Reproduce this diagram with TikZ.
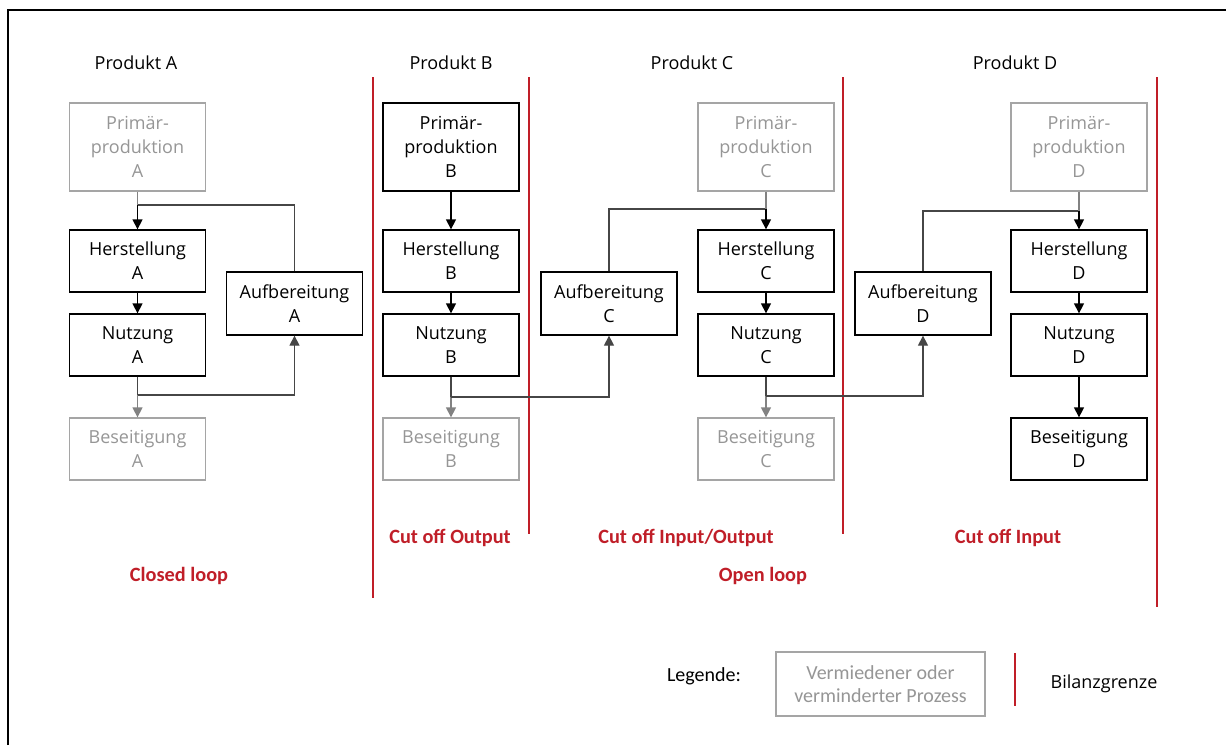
\documentclass[tikz,border=0pt]{standalone}
\usepackage{fontspec}
\setmainfont{Open Sans}
\newfontfamily\calibri{Carlito}
\usetikzlibrary{arrows.meta}
\definecolor{bilanz}{RGB}{192,30,40}
\definecolor{fadedtext}{RGB}{150,150,150}
\definecolor{fadedline}{RGB}{165,165,165}
\definecolor{fadedarrow}{RGB}{130,130,130}
\definecolor{connector}{RGB}{70,70,70}

\begin{document}
\begin{tikzpicture}[x=1pt,y=-1pt,
  proc/.style={draw=black, line width=1.3pt, minimum width=136pt, align=center,
    inner sep=0pt, font=\fontsize{18}{24}\selectfont},
  avoided/.style={proc, draw=fadedline, text=fadedtext},
  tallbox/.style={minimum height=88pt},
  flatbox/.style={minimum height=62pt},
  tip/.style={-{Triangle[length=10pt,width=10pt]}},
  flow/.style={tip, line width=1.3pt, draw=black},
  fadedflow/.style={tip, line width=1.3pt, draw=fadedarrow},
  feedline/.style={line width=1.3pt, draw=fadedarrow},
  recycle/.style={line width=1.3pt, draw=connector},
  recyclein/.style={recycle, tip},
  boundary/.style={draw=bilanz, line width=2pt},
  heading/.style={font=\fontsize{18}{22}\selectfont},
  redlabel/.style={text=bilanz, font=\calibri\bfseries\fontsize{20.3}{24}\selectfont},
  legendtext/.style={font=\calibri\fontsize{20}{23}\selectfont}
]
\useasboundingbox (0,0) rectangle (1226,745);
\fill[white] (0,0) rectangle (1226,745);
\draw[line width=1.6pt] (8,745) -- (8,10) -- (1226,10);

% column headings
\node[heading] (hA) at (136,63) {Produkt A};
\node[heading] (hB) at (451,63) {Produkt B};
\node[heading] (hC) at (692,63) {Produkt C};
\node[heading] (hD) at (1015,63) {Produkt D};

% balance boundaries
\draw[boundary] (373,77) -- (373,598);
\draw[boundary] (529,77) -- (529,534);
\draw[boundary] (843,77) -- (843,534);
\draw[boundary] (1157,77) -- (1157,607);

% product A
\node[avoided, tallbox] (primA) at (137.5,147) {Primär-\\produktion\\A};
\node[proc, flatbox] (herA) at (137.5,261) {Herstellung\\A};
\node[proc, flatbox] (nutA) at (137.5,345) {Nutzung\\A};
\node[avoided, flatbox] (besA) at (137.5,449) {Beseitigung\\A};
\node[proc, minimum height=63pt] (aufA) at (294.5,303.5) {Aufbereitung\\A};

% product B
\node[proc, tallbox] (primB) at (451,147) {Primär-\\produktion\\B};
\node[proc, flatbox] (herB) at (451,261) {Herstellung\\B};
\node[proc, flatbox] (nutB) at (451,345) {Nutzung\\B};
\node[avoided, flatbox] (besB) at (451,449) {Beseitigung\\B};

% product C
\node[proc, minimum height=63pt] (aufC) at (609,303.5) {Aufbereitung\\C};
\node[avoided, tallbox] (primC) at (766,147) {Primär-\\produktion\\C};
\node[proc, flatbox] (herC) at (766,261) {Herstellung\\C};
\node[proc, flatbox] (nutC) at (766,345) {Nutzung\\C};
\node[avoided, flatbox] (besC) at (766,449) {Beseitigung\\C};

% product D
\node[proc, minimum height=63pt] (aufD) at (923,303.5) {Aufbereitung\\D};
\node[avoided, tallbox] (primD) at (1079,147) {Primär-\\produktion\\D};
\node[proc, flatbox] (herD) at (1079,261) {Herstellung\\D};
\node[proc, flatbox] (nutD) at (1079,345) {Nutzung\\D};
\node[proc, flatbox] (besD) at (1079,449) {Beseitigung\\D};

% junction points where the recycling loops join the main chains
\coordinate (inA) at (137.5,205);
\coordinate (outA) at (137.5,395);
\coordinate (inC) at (766,209);
\coordinate (outB) at (451,397);
\coordinate (inD) at (1079,211);
\coordinate (outC) at (766,396);

% chain A
\draw[feedline] (primA) -- (inA);
\draw[flow] (inA) -- (herA);
\draw[flow] (herA) -- (nutA);
\draw[recycle] (nutA) -- (outA);
\draw[fadedflow] (outA) -- (besA);
\draw[recyclein] (outA) -| (aufA);
\draw[recycle] (aufA) |- (inA);

% chain B
\draw[flow] (primB) -- (herB);
\draw[flow] (herB) -- (nutB);
\draw[recycle] (nutB) -- (outB);
\draw[fadedflow] (outB) -- (besB);
\draw[recyclein] (outB) -| (aufC);

% chain C
\draw[recycle] (aufC) |- (inC);
\draw[feedline] (primC) -- (inC);
\draw[flow] (inC) -- (herC);
\draw[flow] (herC) -- (nutC);
\draw[recycle] (nutC) -- (outC);
\draw[fadedflow] (outC) -- (besC);
\draw[recyclein] (outC) -| (aufD);

% chain D
\draw[recycle] (aufD) |- (inD);
\draw[feedline] (primD) -- (inD);
\draw[flow] (inD) -- (herD);
\draw[flow] (herD) -- (nutD);
\draw[flow] (nutD) -- (besD);

% boundary labels
\node[redlabel] (cutOut) at (450,538) {Cut off Output};
\node[redlabel] (cutInOut) at (686,538) {Cut off Input/Output};
\node[redlabel] (cutIn) at (1008,538) {Cut off Input};
\node[redlabel] (closed) at (179,576) {Closed loop};
\node[redlabel] (open) at (763,576) {Open loop};

% legend
\node[legendtext] (legTitle) at (704,676) {Legende:};
\node[draw=fadedline, line width=1.2pt, minimum width=209pt, minimum height=64pt,
  align=center, inner sep=0pt, text=fadedtext,
  font=\calibri\fontsize{20}{23}\selectfont] (legBox) at (880.5,684)
  {Vermiedener oder\\verminderter Prozess};
\draw[boundary] (1015,653) -- (1015,706);
\node[heading] (legLine) at (1104,684) {Bilanzgrenze};
\end{tikzpicture}
\end{document}
